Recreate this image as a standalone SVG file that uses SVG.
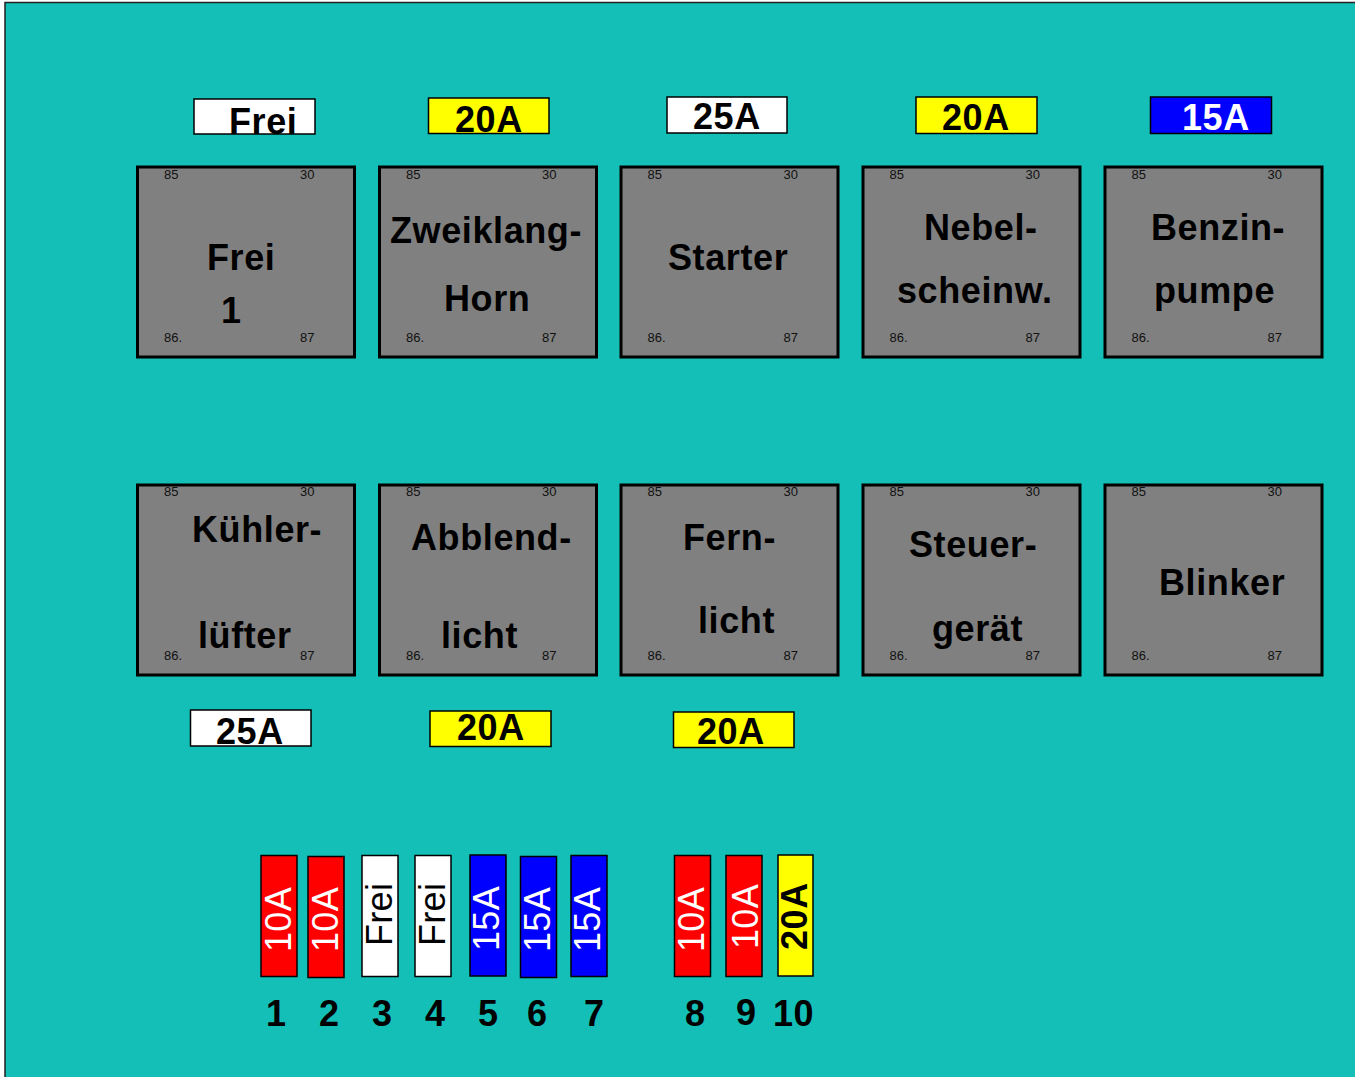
<svg xmlns="http://www.w3.org/2000/svg" width="1355" height="1077" viewBox="0 0 1355 1077">
<style>
text{font-family:"Liberation Sans",Arial,sans-serif}
.b{font-weight:700;font-size:36px;fill:#000;letter-spacing:.6px}
.w{fill:#fff}
.s{font-size:13px;fill:#111}
.r{fill:#808080;stroke:#000;stroke-width:3}
.l{stroke:#000;stroke-width:1.5}
.f{font-size:36px;letter-spacing:.3px}
</style>
<defs><clipPath id="c"><rect x="194" y="99" width="121" height="35"/></clipPath>
<g id="pins"><text class="s" x="27" y="12">85</text><text class="s" x="163" y="12">30</text><text class="s" x="27" y="175">86.</text><text class="s" x="163" y="175">87</text></g>
<g id="pins2"><text class="s" x="27" y="12">85</text><text class="s" x="163" y="12">30</text><text class="s" x="27" y="176">86.</text><text class="s" x="163" y="176">87</text></g></defs>
<rect x="5" y="2.500" width="1352" height="1078" fill="#14bfb7" stroke="#222" stroke-width="1.500"/>
<g id="top-labels">
<g id="l1"><rect class="l" x="194" y="99" width="121" height="35" fill="#fff"/><text class="b" x="229" y="134" clip-path="url(#c)">Frei</text></g>
<g id="l2"><rect class="l" x="428.500" y="98" width="120.500" height="35.500" fill="#ff0"/><text class="b" x="455" y="132">20A</text></g>
<g id="l3"><rect class="l" x="667" y="97" width="120" height="36" fill="#fff"/><text class="b" x="693" y="129">25A</text></g>
<g id="l4"><rect class="l" x="916" y="97" width="121" height="36.500" fill="#ff0"/><text class="b" x="942" y="130">20A</text></g>
<g id="l5"><rect class="l" x="1150.500" y="97" width="121" height="36.500" fill="#00f"/><text class="b w" x="1182" y="130">15A</text></g>
</g>
<g id="r1"><rect class="r" x="137.500" y="167" width="217" height="190"/><use href="#pins" x="137" y="167"/><text class="b" x="207" y="270">Frei</text><text class="b" x="221" y="323">1</text></g>
<g id="r2"><rect class="r" x="379.500" y="167" width="217" height="190"/><use href="#pins" x="379" y="167"/><text class="b" x="390" y="243">Zweiklang-</text><text class="b" x="444" y="311">Horn</text></g>
<g id="r3"><rect class="r" x="621" y="167" width="217" height="190"/><use href="#pins" x="620.500" y="167"/><text class="b" x="668" y="270">Starter</text></g>
<g id="r4"><rect class="r" x="863" y="167" width="217" height="190"/><use href="#pins" x="862.500" y="167"/><text class="b" x="924" y="240">Nebel-</text><text class="b" x="897" y="303">scheinw.</text></g>
<g id="r5"><rect class="r" x="1105" y="167" width="217" height="190"/><use href="#pins" x="1104.500" y="167"/><text class="b" x="1151" y="240">Benzin-</text><text class="b" x="1154" y="303">pumpe</text></g>
<g id="r6"><rect class="r" x="137.500" y="485" width="217" height="190"/><use href="#pins2" x="137" y="484"/><text class="b" x="192" y="542">Kühler-</text><text class="b" x="198" y="648">lüfter</text></g>
<g id="r7"><rect class="r" x="379.500" y="485" width="217" height="190"/><use href="#pins2" x="379" y="484"/><text class="b" x="411" y="550">Abblend-</text><text class="b" x="441" y="648">licht</text></g>
<g id="r8"><rect class="r" x="621" y="485" width="217" height="190"/><use href="#pins2" x="620.500" y="484"/><text class="b" x="683" y="550">Fern-</text><text class="b" x="698" y="633">licht</text></g>
<g id="r9"><rect class="r" x="863" y="485" width="217" height="190"/><use href="#pins2" x="862.500" y="484"/><text class="b" x="909" y="557">Steuer-</text><text class="b" x="932" y="641">gerät</text></g>
<g id="r10"><rect class="r" x="1105" y="485" width="217" height="190"/><use href="#pins2" x="1104.500" y="484"/><text class="b" x="1159" y="595">Blinker</text></g>
<g id="bottom-labels">
<g id="l6"><rect class="l" x="190.500" y="710" width="120.500" height="36" fill="#fff"/><text class="b" x="216" y="744">25A</text></g>
<g id="l7"><rect class="l" x="430" y="711" width="121" height="35.500" fill="#ff0"/><text class="b" x="457" y="740">20A</text></g>
<g id="l8"><rect class="l" x="673.500" y="712" width="120.500" height="35.500" fill="#ff0"/><text class="b" x="697" y="744">20A</text></g>
</g>
<g id="fuses">
<g id="f1"><rect class="l" x="261" y="855.500" width="36" height="121" fill="#f00"/><text class="f w" transform="translate(291 952) rotate(-90)">10A</text></g>
<g id="f2"><rect class="l" x="308" y="856.500" width="36" height="121" fill="#f00"/><text class="f w" transform="translate(338 952) rotate(-90)">10A</text></g>
<g id="f3"><rect class="l" x="362" y="855.500" width="36" height="121" fill="#fff"/><text class="f" transform="translate(392 946) rotate(-90)">Frei</text></g>
<g id="f4"><rect class="l" x="415" y="855.500" width="36" height="121" fill="#fff"/><text class="f" transform="translate(445 946) rotate(-90)">Frei</text></g>
<g id="f5"><rect class="l" x="470" y="855" width="36" height="121" fill="#00f"/><text class="f w" transform="translate(499 951) rotate(-90)">15A</text></g>
<g id="f6"><rect class="l" x="520.500" y="856.500" width="36" height="121" fill="#00f"/><text class="f w" transform="translate(550 952) rotate(-90)">15A</text></g>
<g id="f7"><rect class="l" x="571" y="855.500" width="36" height="121" fill="#00f"/><text class="f w" transform="translate(600 952) rotate(-90)">15A</text></g>
<g id="f8"><rect class="l" x="674.500" y="855.500" width="36" height="121" fill="#f00"/><text class="f w" transform="translate(704 952) rotate(-90)">10A</text></g>
<g id="f9"><rect class="l" x="726" y="855.500" width="36" height="121" fill="#f00"/><text class="f w" transform="translate(758 949) rotate(-90)">10A</text></g>
<g id="f10"><rect class="l" x="778" y="855" width="35" height="121" fill="#ff0"/><text class="b" transform="translate(807 950) rotate(-90)">20A</text></g>
</g>
<g id="numbers">
<text class="b" x="266" y="1026">1</text><text class="b" x="319" y="1026">2</text><text class="b" x="372" y="1026">3</text><text class="b" x="425" y="1026">4</text><text class="b" x="478" y="1026">5</text><text class="b" x="527" y="1026">6</text><text class="b" x="584" y="1026">7</text><text class="b" x="685" y="1026">8</text><text class="b" x="736" y="1025">9</text><text class="b" x="773" y="1026">10</text>
</g>
</svg>
